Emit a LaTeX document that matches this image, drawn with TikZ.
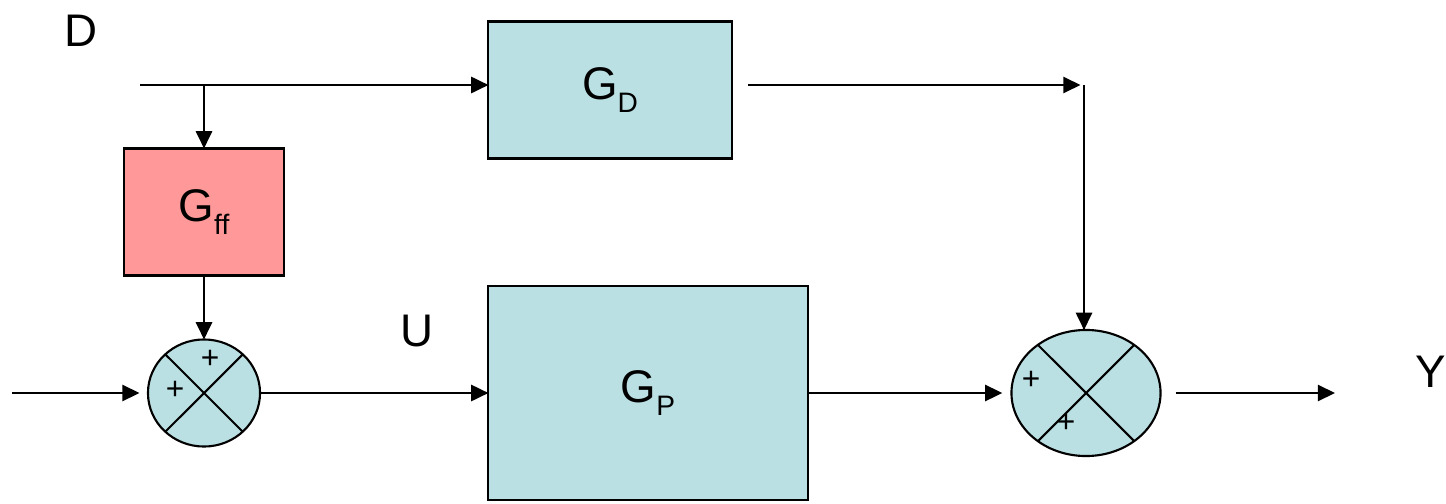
\documentclass[tikz,border=0pt]{standalone}
\usepackage{fontspec}
\setmainfont{Liberation Sans}
\usepackage{tikz}
\usetikzlibrary{arrows.meta,shapes,positioning}
\usepackage{xcolor}
\definecolor{bdblue}{RGB}{187,224,227}
\definecolor{bdred}{RGB}{255,153,153}
\newcommand{\lowsub}[1]{\raisebox{-3.6pt}{\fontsize{8}{9}\selectfont #1}}
\tikzstyle{block} = [rectangle, draw=black, line width=0.6pt, fill=bdblue, inner sep=0pt, outer sep=0pt, font=\fontsize{13}{15}\selectfont]
\tikzstyle{sumjunction} = [ellipse, draw=black, line width=0.6pt, fill=bdblue, inner sep=0pt, outer sep=0pt]
\tikzstyle{arrow} = [line width=0.6pt, -{Triangle[length=4.9pt,width=4.6pt]}]
\tikzstyle{signal} = [font=\fontsize{13}{15}\selectfont, inner sep=0pt]
\tikzstyle{sign} = [font=\fontsize{9}{10}\selectfont, inner sep=0pt]

\begin{document}
\begin{tikzpicture}[x=0.01cm, y=-0.01cm]
\useasboundingbox (0,0) rectangle (1446,503);
% Blocks
\node (gd) [block, minimum width=2.43cm, minimum height=1.37cm] at (610,90) {G\lowsub{D}};
\node (gff) [block, fill=bdred, minimum width=1.6cm, minimum height=1.27cm] at (204,212) {G\lowsub{ff}};
\node (gp) [block, minimum width=3.19cm, minimum height=2.13cm] at (648,393) {G\lowsub{P}};

% Summing junctions
\node (sumff) [sumjunction, minimum width=1.12cm, minimum height=1.07cm] at (204,393) {};
\node (sumout) [sumjunction, minimum width=1.49cm, minimum height=1.26cm] at (1086,393) {};
\draw[line width=0.6pt] (sumff.135) -- (sumff.-45) (sumff.45) -- (sumff.225);
\draw[line width=0.6pt] (sumout.135) -- (sumout.-45) (sumout.45) -- (sumout.225);
\node [sign] at (210,359) {+};
\node [sign] at (175,390) {+};
\node [sign] at (1031,380) {+};
\node [sign] at (1066,423) {+};

% Signal labels
\node (dlabel) [signal] at (81,31) {D};
\node (ulabel) [signal] at (417,331) {U};
\node (ylabel) [signal] at (1431,372) {Y};

% Free ends
\coordinate (din) at (140,85);
\coordinate (dsplit) at (204,85);
\coordinate (gdout) at (748,85);
\coordinate (corner) at (1084,85);
\coordinate (uin) at (12,393);
\coordinate (yout) at (1335,393);

% Arrows
\draw[arrow] (din) -- (gd.west |- din);
\draw[arrow] (dsplit) -- (gff.north);
\draw[arrow] (gff.south) -- (sumff.north);
\draw[arrow, shorten >=2.4pt] (uin) -- (sumff.west);
\draw[arrow] (sumff.east) -- (gp.west);
\draw[arrow] (gdout) -- ([xshift=-1pt]corner);
\draw[line width=0.6pt] (corner) -- (corner |- sumout.north);
\draw[arrow] ([yshift=1pt]corner |- sumout.north) -- (corner |- sumout.north);
\draw[arrow, shorten >=2.6pt] (gp.east) -- (sumout.west);
\draw[arrow, shorten <=4.3pt] (sumout.east) -- (yout);
\end{tikzpicture}
\end{document}
